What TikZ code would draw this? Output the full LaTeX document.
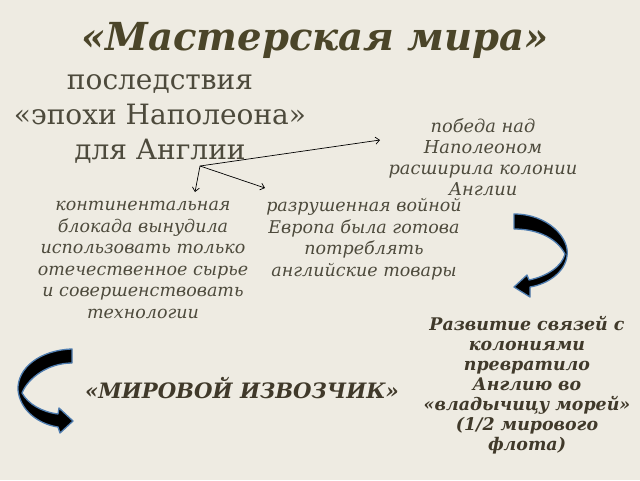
\documentclass[tikz,border=0pt]{standalone}
\usepackage{fontspec}
\setmainfont{DejaVu Serif}
\usetikzlibrary{arrows.meta}
\definecolor{bg}{HTML}{EEEBE2}
\definecolor{titlec}{HTML}{4B4529}
\definecolor{txtc}{HTML}{4D4A3C}
\definecolor{boldc}{HTML}{40392A}
\definecolor{edgeblue}{HTML}{4F7DB0}
\tikzset{
  titletext/.style={text=titlec, font=\fontsize{38.6}{44}\selectfont\bfseries\itshape},
  headtext/.style={text=txtc, align=center, font=\fontsize{28}{35}\selectfont},
  itext/.style={text=txtc, align=center, font=\fontsize{17.5}{21.5}\selectfont\itshape},
  smalltext/.style={text=txtc, align=center, font=\fontsize{17.8}{21}\selectfont\itshape},
  btext/.style={text=boldc, align=center, font=\fontsize{17.4}{20}\selectfont\bfseries\itshape},
  thinarrow/.style={draw=black, line width=0.7pt, -{Straight Barb[length=4pt,width=7pt]}},
  bigarrow/.style={fill=black, draw=edgeblue, line width=1.3pt, line join=round}
}
\begin{document}
\begin{tikzpicture}[x=1pt,y=-1pt]
\fill[bg] (0,0) rectangle (640,480);
\useasboundingbox (0,0) rectangle (640,480);

\node[titletext, anchor=base] (title) at (315,50) {«Мастерская мира»};

\node[headtext] (head) at (160,119) {последствия\\«эпохи Наполеона»\\для Англии};

\node[smalltext] (win) at (483,157) {победа над\\Наполеоном\\расширила колонии\\Англии};

\node[itext] (block) at (143,260) {континентальная\\блокада вынудила\\использовать только\\отечественное сырье\\и совершенствовать\\технологии};

\node[itext] (europe) at (364,239) {разрушенная войной\\Европа была готова\\потреблять\\английские товары};

\node[btext] (colon) at (527,385) {Развитие связей с\\колониями\\превратило\\Англию во\\«владычицу морей»\\(1/2 мирового\\флота)};

\node[btext, font=\fontsize{21.2}{24}\selectfont\bfseries\itshape] (carrier) at (242,388) {«МИРОВОЙ ИЗВОЗЧИК»};

\coordinate (o) at (200,166);
\coordinate (t1) at (380,140);
\coordinate (t2) at (195,192);
\coordinate (t3) at (265,188);
\draw[thinarrow] (o) -- (t1);
\draw[thinarrow] (o) -- (t2);
\draw[thinarrow] (o) -- (t3);

% right curved arrow
\draw[bigarrow] (514,214) .. controls (548,214) and (570,238) .. (567,256)
  .. controls (565,272) and (548,284) .. (530,287)
  -- (530,297) -- (514,287) -- (527,275) -- (529,280)
  .. controls (548,276) and (562,266) .. (565,254)
  .. controls (558,240) and (540,229) .. (514,229) -- cycle;

% left curved arrow
\draw[bigarrow] (72,349) .. controls (40,350) and (17,368) .. (18,390)
  .. controls (20,410) and (38,424) .. (58,427)
  -- (60,433) -- (73,421) -- (59,408) -- (58,414)
  .. controls (42,412) and (28,404) .. (22,393)
  .. controls (28,378) and (48,363) .. (72,363) -- cycle;
\end{tikzpicture}
\end{document}
